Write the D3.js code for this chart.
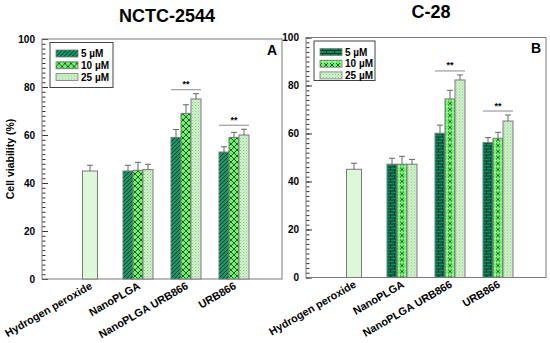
<!DOCTYPE html>
<html>
<head>
<meta charset="utf-8">
<script src="https://cdn.jsdelivr.net/npm/d3@7"></script>
<style>
  body { margin: 0; background: #fff; }
  svg { display: block; font-family: "Liberation Sans", Arial, sans-serif; }
</style>
</head>
<body>
<svg id="chart" width="550" height="343"></svg>
<script>
// data
const categories = ['Hydrogen peroxide', 'NanoPLGA', 'NanoPLGA URB866', 'URB866'];
const concentrations = ['5 \u00B5M', '10 \u00B5M', '25 \u00B5M'];

const peroxideA = [45.0, 2.4];   // mean, sd
const peroxideB = [45.1, 2.5];

// rows: NanoPLGA, NanoPLGA URB866, URB866 ; cols: 5, 10, 25 uM
const meansA = [[45.0, 45.3, 45.6], [59.0, 69.0, 75.0], [52.9, 59.0, 60.0]];
const errsA  = [[2.4, 3.3, 2.2], [3.3, 3.6, 2.2], [2.2, 2.1, 2.4]];
const meansB = [[47.2, 47.2, 47.2], [60.1, 74.4, 82.3], [56.2, 58.0, 65.2]];
const errsB  = [[2.5, 3.3, 2.0], [3.4, 3.6, 2.1], [2.1, 2.5, 2.5]];

const significantA = ['NanoPLGA URB866', 'URB866'];
const significantB = ['NanoPLGA URB866', 'URB866'];

const yTicks = [0, 20, 40, 60, 80, 100];

const svg = d3.select('#chart');
const defs = svg.append('defs');

// ---- fill patterns ----
function pattern(id, w, h, bg, build) {
    const p = defs.append('pattern')
        .attr('id', id)
        .attr('patternUnits', 'userSpaceOnUse')
        .attr('width', w)
        .attr('height', h);
    p.append('rect').attr('width', w).attr('height', h).attr('fill', bg);
    build(p);
}

pattern('diagA', 4, 4, '#0f9968', p => {
    p.append('path')
        .attr('d', 'M-1,1 L1,-1 M0,4 L4,0 M3,5 L5,3')
        .attr('stroke', '#08261a').attr('stroke-width', 0.9);
});
pattern('brickB', 8, 6, '#0e8c5f', p => {
    p.append('path')
        .attr('d', 'M0,0.5 H8 M0,3.5 H8 M0.5,0.5 V3.5 M4.5,3.5 V6.5')
        .attr('stroke', '#06301f').attr('stroke-width', 0.9);
});
pattern('cross', 6, 6, '#6ef26e', p => {
    p.append('path')
        .attr('d', 'M0,0 L6,6 M6,0 L0,6')
        .attr('stroke', '#123812').attr('stroke-width', 0.8);
});
pattern('crossB', 6, 6, '#6ef26e', p => {
    p.append('path')
        .attr('d', 'M0,0 L6,6 M6,0 L0,6')
        .attr('stroke', '#123812').attr('stroke-width', 0.8);
    p.append('circle').attr('cx', 3).attr('cy', 3).attr('r', 1.3).attr('fill', '#9cf79c');
});
pattern('dots', 3, 3, '#d3f3cd', p => {
    p.append('rect').attr('x', 0).attr('y', 0).attr('width', 1).attr('height', 1).attr('fill', '#86c886');
    p.append('rect').attr('x', 1.5).attr('y', 1.5).attr('width', 1).attr('height', 1).attr('fill', '#9ad49a');
});

const panels = [
    { x: 42, y: 39, title: 'NCTC-2544', titleY: 21.5, tag: 'A', tagY: 55, yTitle: true,
      peroxide: peroxideA, means: meansA, errs: errsA, sig: significantA,
      legendW: 63, legendH: 45,
      fills: ['url(#diagA)', 'url(#cross)', 'url(#dots)'] },
    { x: 306, y: 37.5, title: 'C-28', titleY: 18, tag: 'B', tagY: 53, yTitle: false,
      peroxide: peroxideB, means: meansB, errs: errsB, sig: significantB,
      legendW: 61, legendH: 39.5,
      fills: ['url(#brickB)', 'url(#crossB)', 'url(#dots)'] }
];

const W = 240, H = 240;
const edge = '#7a7a7a';

panels.forEach(drawPanel);

function drawPanel(cfg) {
    const g = svg.append('g').attr('transform', `translate(${cfg.x},${cfg.y})`);

    const x = d3.scaleBand().domain(categories).range([0, W]).paddingInner(0).paddingOuter(0.5);
    const xSub = d3.scaleBand().domain(concentrations).range([-15, 15]);
    const y = d3.scaleLinear().domain([0, 100]).range([H, 0]);
    const cx = c => x(c) + x.bandwidth() / 2;

    // minor ticks
    g.append('g')
        .call(d3.axisLeft(y).tickValues(d3.range(0, 101, 2)).tickSize(-3.5).tickFormat(''))
        .call(a => a.select('.domain').remove())
        .selectAll('line').attr('stroke', '#333');

    // major ticks + labels
    const ax = g.append('g')
        .call(d3.axisLeft(y).tickValues(yTicks).tickSize(-6).tickPadding(7));
    ax.select('.domain').remove();
    ax.selectAll('line').attr('stroke', '#333');
    ax.selectAll('text')
        .attr('font-size', 10).attr('font-weight', 'bold').attr('fill', '#000');

    // frame
    g.append('rect')
        .attr('width', W).attr('height', H)
        .attr('fill', 'none').attr('stroke', edge).attr('stroke-width', 1);

    // hydrogen peroxide bar
    const pc = cx(categories[0]);
    g.append('rect')
        .attr('x', pc - 7.5).attr('width', 15)
        .attr('y', y(cfg.peroxide[0])).attr('height', H - y(cfg.peroxide[0]))
        .attr('fill', '#dcf8d8').attr('stroke', edge);
    errorBar(g, pc, y(cfg.peroxide[0]), y(cfg.peroxide[0] + cfg.peroxide[1]));

    // grouped bars
    const rows = [];
    categories.slice(1).forEach((c, i) => {
        concentrations.forEach((k, j) => {
            rows.push({ cat: c, conc: k, j: j, v: cfg.means[i][j], e: cfg.errs[i][j] });
        });
    });

    g.selectAll('rect.bar')
        .data(rows)
        .enter()
        .append('rect')
        .attr('class', 'bar')
        .attr('x', d => cx(d.cat) + xSub(d.conc))
        .attr('width', xSub.bandwidth())
        .attr('y', d => y(d.v))
        .attr('height', d => H - y(d.v))
        .attr('fill', d => cfg.fills[d.j])
        .attr('stroke', edge).attr('stroke-width', 1);

    rows.forEach(d => {
        const bx = cx(d.cat) + xSub(d.conc) + xSub.bandwidth() / 2;
        errorBar(g, bx, y(d.v), y(d.v + d.e));
    });

    // significance markers
    cfg.sig.forEach(c => {
        const r = rows.filter(d => d.cat === c);
        const top = d3.min(r, d => y(d.v + d.e)) - 4;
        g.append('line')
            .attr('x1', cx(c) - 15).attr('x2', cx(c) + 15)
            .attr('y1', top).attr('y2', top)
            .attr('stroke', '#8a8a8a').attr('stroke-width', 1);
        g.append('text')
            .attr('x', cx(c)).attr('y', top - 2.5)
            .attr('text-anchor', 'middle')
            .attr('font-size', 9).attr('font-weight', 'bold')
            .text('**');
    });

    // category labels
    categories.forEach(c => {
        g.append('text')
            .attr('transform', `translate(${cx(c) + 3},${H + 9}) rotate(-30)`)
            .attr('text-anchor', 'end')
            .attr('font-size', 10.8).attr('font-weight', 'bold')
            .text(c);
    });

    // legend
    const lg = g.append('g').attr('transform', 'translate(8,3.5)');
    lg.append('rect')
        .attr('width', cfg.legendW).attr('height', cfg.legendH)
        .attr('fill', '#fff').attr('stroke', '#444').attr('stroke-width', 1);
    const step = cfg.tag === 'A' ? 11.8 : 11.7;
    concentrations.forEach((k, j) => {
        const ry = 11 + j * step;
        lg.append('rect')
            .attr('x', 6).attr('y', ry - 3.5).attr('width', 22).attr('height', 7)
            .attr('fill', cfg.fills[j]).attr('stroke', edge).attr('stroke-width', 0.8);
        lg.append('text')
            .attr('x', 31).attr('y', ry + 3.6)
            .attr('font-size', 10).attr('font-weight', 'bold')
            .text(k);
    });

    // panel tag
    g.append('text')
        .attr('x', W - 5).attr('y', cfg.tagY - cfg.y)
        .attr('text-anchor', 'end')
        .attr('font-size', 14).attr('font-weight', 'bold')
        .text(cfg.tag);

    // title
    svg.append('text')
        .attr('x', cfg.x + W / 2 + 5).attr('y', cfg.titleY)
        .attr('text-anchor', 'middle')
        .attr('font-size', 18).attr('font-weight', 'bold')
        .text(cfg.title);

    if (cfg.yTitle) {
        svg.append('text')
            .attr('transform', `translate(14,${cfg.y + H / 2}) rotate(-90)`)
            .attr('text-anchor', 'middle')
            .attr('font-size', 10.5).attr('font-weight', 'bold')
            .text('Cell viability (%)');
    }
}

function errorBar(g, x0, yBase, yTop) {
    g.append('line')
        .attr('x1', x0).attr('x2', x0).attr('y1', yBase).attr('y2', yTop)
        .attr('stroke', '#666').attr('stroke-width', 1);
    g.append('line')
        .attr('x1', x0 - 3).attr('x2', x0 + 3).attr('y1', yTop).attr('y2', yTop)
        .attr('stroke', '#666').attr('stroke-width', 1);
}
</script>
</body>
</html>
